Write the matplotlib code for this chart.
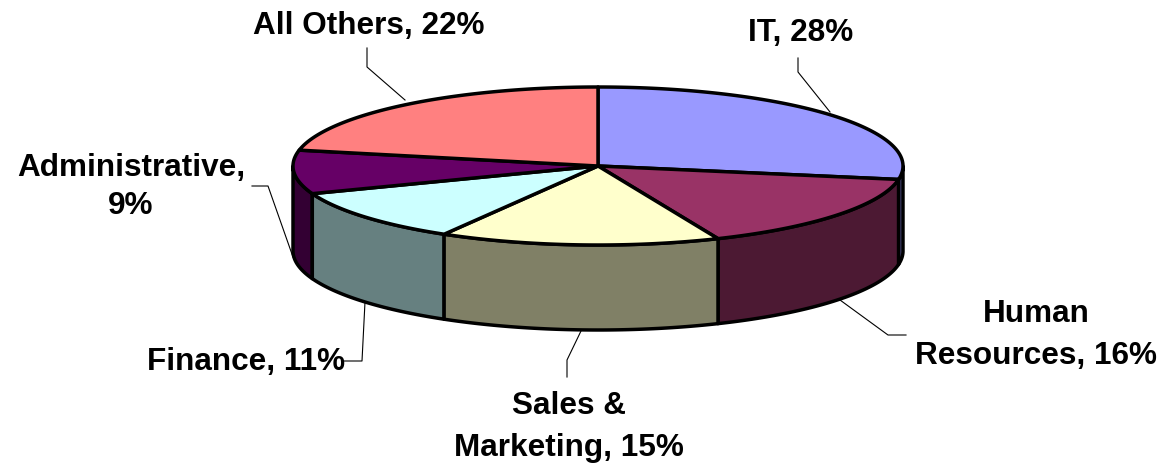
import numpy as np
import matplotlib
matplotlib.use("Agg")
import matplotlib.pyplot as plt

categories = ["IT", "Human\nResources", "Sales &\nMarketing", "Finance", "Administrative", "All Others"]
shares = [28, 16, 15, 11, 9, 22]
label_texts = ["IT, 28%", "Human\nResources, 16%", "Sales &\nMarketing, 15%", "Finance, 11%", "Administrative,\n9%", "All Others, 22%"]
top_colors = ["#9999FF", "#993366", "#FFFFCC", "#CCFFFF", "#660066", "#FF8080"]
wall_colors = ["#5A5A99", "#4C1933", "#808066", "#668080", "#330033", "#804040"]

W, H = 1162, 465
CX, CY, RX, RY, DEPTH = 598, 166, 305, 79, 85
EDGE = 2.5

fig = plt.figure(figsize=(W / 100, H / 100), dpi=100)
ax = fig.add_axes([0, 0, 1, 1])
ax.set_xlim(0, W)
ax.set_ylim(H, 0)
ax.axis("off")


def rim(a, b, dy=0):
    t = np.radians(np.linspace(a, b, 90))
    return CX + RX * np.sin(t), CY - RY * np.cos(t) + dy


edges = np.concatenate([[0], np.cumsum(shares)]) / sum(shares) * 360

# side walls, visible on the front half only
order = [0, 4, 1, 3, 2]
for i in order:
    a, b = max(edges[i], 90), min(edges[i + 1], 270)
    if b <= a:
        continue
    x1, y1 = rim(a, b)
    x2, y2 = rim(b, a, DEPTH)
    ax.fill(np.r_[x1, x2], np.r_[y1, y2], facecolor=wall_colors[i], edgecolor="black",
            linewidth=EDGE, joinstyle="round", zorder=2)

# top faces
for i in range(len(shares)):
    x, y = rim(edges[i], edges[i + 1])
    ax.fill(np.r_[CX, x], np.r_[CY, y], facecolor=top_colors[i], edgecolor="black",
            linewidth=EDGE, joinstyle="round", zorder=3)

# leader lines
leaders = [
    [(798, 58), (798, 72), (830, 112)],
    [(906, 335), (888, 335), (840, 300)],
    [(567, 377), (567, 360), (581, 331)],
    [(344, 361), (362, 361), (365, 302)],
    [(252, 186), (268, 186), (293, 257)],
    [(367, 48), (367, 67), (405, 100)],
]
for pts in leaders:
    px, py = zip(*pts)
    ax.plot(px, py, color="black", linewidth=0.8, zorder=1)

# labels
label_pos = [(801, 33), (1036, 335), (569, 427), (246, 362), (131, 187), (369, 26)]
spacing = [1.2, 1.5, 1.5, 1.2, 1.35, 1.2]
for s, (x, y), ls in zip(label_texts, label_pos, spacing):
    ax.text(x, y, s, ha="center", va="center", fontsize=22.7, fontweight="bold",
            family="Liberation Sans", color="black", linespacing=ls, zorder=5)

fig.savefig("out.png", dpi=100, facecolor="white")
